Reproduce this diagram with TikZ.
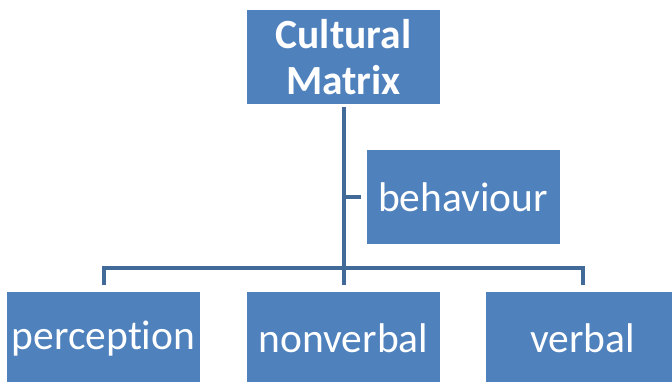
\documentclass[tikz,border=0pt]{standalone}
\usepackage{fontspec}
\setmainfont[RawFeature={-liga;-clig;-calt}]{Carlito}
\usetikzlibrary{positioning}
\definecolor{boxblue}{RGB}{79,129,189}
\definecolor{lineblue}{RGB}{65,106,152}

\begin{document}
\begin{tikzpicture}[x=1pt,y=-1pt]
\clip (0,0) rectangle (672,382);
\useasboundingbox (0,0) rectangle (672,382);
\begin{scope}[every node/.style={rectangle,fill=boxblue,text=white,
              minimum width=193pt,minimum height=94pt,inner sep=0pt,align=center,
              font=\fontsize{41.5}{46}\selectfont}]
    \node (CM) at (343.5,57) {\textbf{Cultural}\\\textbf{Matrix}};
    \node (B) at (463,197.5) {behaviour};
    \node (P) at (103.5,338.5) {perception};
    \node (N) at (343.5,338.5) {nonverbal};
    \node (V) at (582.5,338.5) {verbal};
\end{scope}
\coordinate (bar) at (343.5,268);

\begin{scope}[every path/.style={draw=lineblue,line width=4pt}]
    \draw [shorten <=3pt,shorten >=6pt] (CM.south) -- (N.north);
    \draw [shorten >=5pt] (CM.south |- B.west) -- (B.west);
    \draw [shorten <=6pt,shorten >=6pt] (P.north) |- (bar) -| (V.north);
\end{scope}
\end{tikzpicture}
\end{document}
